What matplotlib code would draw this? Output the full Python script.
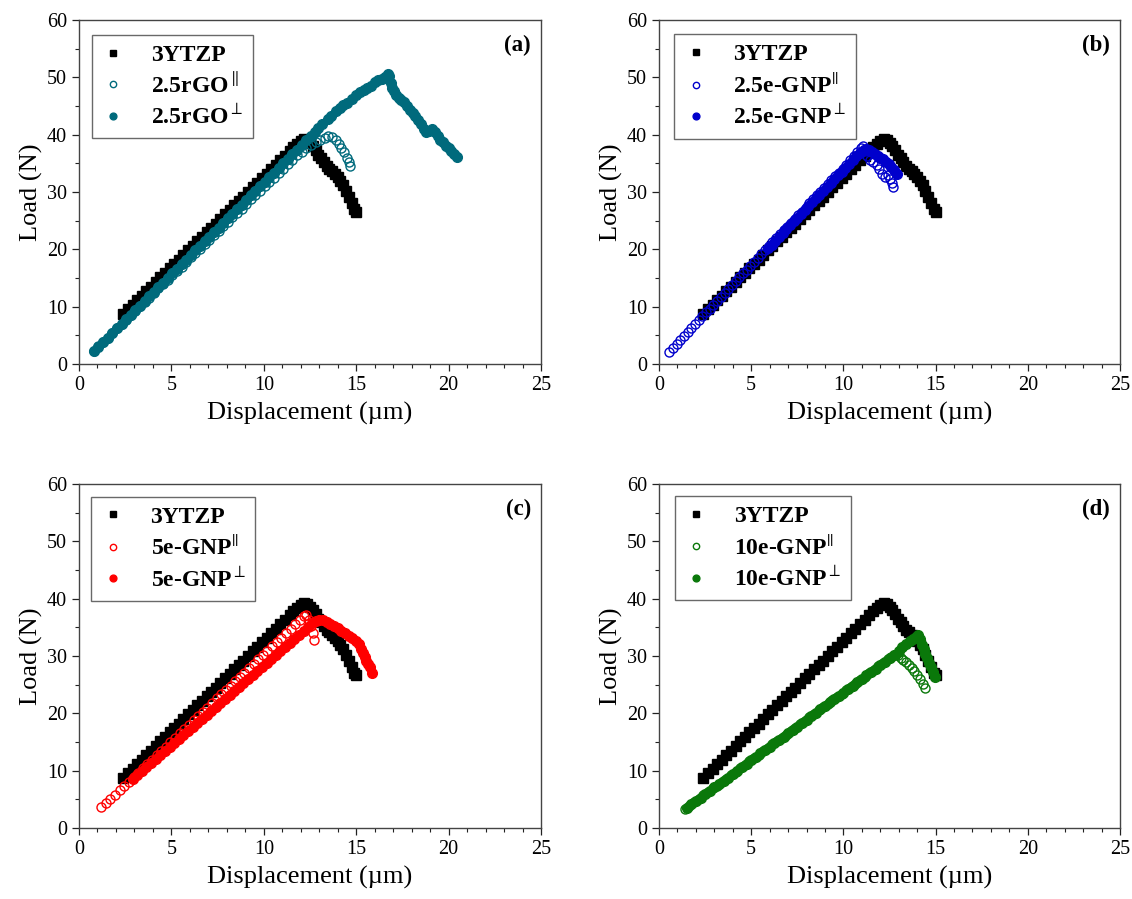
import matplotlib
matplotlib.use("Agg")
import matplotlib.pyplot as plt
from matplotlib.ticker import MultipleLocator

plt.rcParams['font.family'] = ['Liberation Serif', 'DejaVu Serif']
plt.rcParams['mathtext.fontset'] = 'stix'

# ---- datos ----
# 3YTZP (referencia, igual en los cuatro paneles)
x_ytzp = [2.40, 2.65, 2.90, 3.15, 3.40, 3.65, 3.90, 4.15, 4.40, 4.65, 4.90, 5.15, 5.40, 5.65, 5.90,
          6.15, 6.40, 6.65, 6.90, 7.15, 7.40, 7.65, 7.90, 8.15, 8.40, 8.65, 8.90, 9.15, 9.40, 9.65,
          9.90, 10.15, 10.40, 10.65, 10.90, 11.15, 11.40, 11.60, 11.80, 12.00, 12.20, 12.35, 12.50,
          12.65, 12.80, 12.95, 13.10, 13.25, 13.40, 13.55, 13.70, 13.85, 14.00, 14.15, 14.30, 14.45,
          14.60, 14.75, 14.90, 15.00]
y_ytzp = [8.8, 9.6, 10.3, 11.1, 11.9, 12.7, 13.5, 14.3, 15.1, 15.9, 16.7, 17.4, 18.2, 19.0, 19.8,
          20.6, 21.4, 22.2, 23.0, 23.8, 24.5, 25.3, 26.1, 26.9, 27.7, 28.4, 29.2, 30.0, 30.8, 31.6,
          32.4, 33.2, 34.0, 34.7, 35.5, 36.3, 37.1, 37.8, 38.4, 38.9, 39.2, 39.1, 38.6,
          38.1, 37.3, 36.5, 35.9, 35.3, 34.6, 34.1, 33.6, 33.2, 32.7, 32.0, 31.2, 30.2,
          29.2, 28.1, 27.1, 26.6]

# (a) 2.5rGO
x_rgo_par = [0.80, 1.05, 1.30, 1.55, 1.80, 2.05, 2.30, 2.55, 2.80, 3.05, 3.30, 3.55, 3.80, 4.05, 4.30,
             4.55, 4.80, 5.05, 5.30, 5.55, 5.80, 6.05, 6.30, 6.55, 6.80, 7.05, 7.30, 7.55, 7.80, 8.05,
             8.30, 8.55, 8.80, 9.05, 9.30, 9.55, 9.80, 10.05, 10.30, 10.55, 10.80, 11.05, 11.30, 11.55,
             11.80, 12.05, 12.30, 12.55, 12.80, 13.05, 13.30, 13.50, 13.70, 13.90, 14.05, 14.20, 14.35,
             14.50, 14.60, 14.66]
y_rgo_par = [2.3, 3.1, 3.9, 4.6, 5.4, 6.2, 7.0, 7.7, 8.5, 9.3, 10.1, 10.8, 11.6, 12.4, 13.2,
             13.9, 14.7, 15.5, 16.3, 17.0, 17.8, 18.6, 19.4, 20.1, 20.9, 21.7, 22.5, 23.2, 24.0, 24.8,
             25.6, 26.3, 27.1, 27.9, 28.7, 29.4, 30.2, 31.0, 31.8, 32.5, 33.3, 34.1, 34.9, 35.6,
             36.4, 37.0, 37.6, 38.2, 38.7, 39.1, 39.5, 39.7, 39.6, 39.0, 38.3, 37.6, 36.9,
             36.0, 35.2, 34.6]
x_rgo_perp = [0.80, 1.05, 1.30, 1.55, 1.80, 2.05, 2.30, 2.55, 2.80, 3.05, 3.30, 3.55, 3.80, 4.05, 4.30,
              4.55, 4.80, 5.05, 5.30, 5.55, 5.80, 6.05, 6.30, 6.55, 6.80, 7.05, 7.30, 7.55, 7.80, 8.05,
              8.30, 8.55, 8.80, 9.05, 9.30, 9.55, 9.80, 10.05, 10.30, 10.55, 10.80, 11.05, 11.30, 11.55,
              11.80, 12.05, 12.30, 12.55, 12.75, 12.95, 13.15, 13.45, 13.65, 13.90, 14.10, 14.30, 14.50,
              14.75, 15.00, 15.20, 15.40, 15.60, 15.80, 16.00, 16.20, 16.40, 16.55, 16.70, 16.80, 16.88,
              16.95, 17.05, 17.15, 17.30, 17.45, 17.60, 17.75, 17.90, 18.05, 18.20, 18.35, 18.50, 18.65,
              18.80, 18.95, 19.10, 19.25, 19.40, 19.55, 19.70, 19.85, 20.00, 20.15, 20.30, 20.44]
y_rgo_perp = [2.2, 3.0, 3.8, 4.6, 5.4, 6.2, 7.0, 7.8, 8.6, 9.4, 10.2, 11.0, 11.8, 12.6, 13.4,
              14.2, 15.0, 15.8, 16.6, 17.4, 18.2, 19.0, 19.8, 20.6, 21.4, 22.2, 23.0, 23.8, 24.6, 25.4,
              26.2, 27.0, 27.8, 28.6, 29.4, 30.2, 31.0, 31.8, 32.6, 33.4, 34.2, 35.0, 35.8, 36.6,
              37.4, 38.2, 39.0, 39.8, 40.5, 41.2, 41.9, 42.7, 43.3, 44.1, 44.6, 45.1, 45.6,
              46.3, 46.9, 47.4, 47.8, 48.2, 48.5, 49.2, 49.5, 49.8, 50.0, 50.6, 50.2, 49.0,
              48.2, 47.6, 46.9, 46.4, 46.0, 45.7, 45.0, 44.3, 43.7, 43.2, 42.6, 41.8, 41.0,
              40.4, 40.6, 41.0, 40.5, 39.8, 39.1, 38.7, 38.1, 37.6, 37.1, 36.6, 36.1]

# (b) 2.5e-GNP
x_g25_par = [0.53, 0.75, 0.95, 1.15, 1.35, 1.55, 1.75, 1.95, 2.15, 2.35, 2.55, 2.75, 2.95, 3.15, 3.35,
             3.55, 3.75, 3.95, 4.15, 4.35, 4.55, 4.75, 4.95, 5.15, 5.35, 5.55, 5.75, 5.95, 6.15, 6.35,
             6.55, 6.75, 6.95, 7.15, 7.35, 7.55, 7.75, 7.95, 8.15, 8.35, 8.55, 8.75, 8.95, 9.15, 9.35,
             9.55, 9.75, 9.95, 10.15, 10.35, 10.55, 10.75, 10.95, 11.05, 11.15, 11.30, 11.45, 11.60,
             11.80, 11.95, 12.10, 12.25, 12.40, 12.55, 12.65, 12.70]
y_g25_par = [2.1, 2.8, 3.5, 4.2, 4.9, 5.6, 6.3, 6.9, 7.6, 8.3, 9.0, 9.6, 10.3, 11.0, 11.7,
             12.4, 13.0, 13.7, 14.4, 15.1, 15.8, 16.4, 17.1, 17.8, 18.5, 19.2, 19.9, 20.5, 21.2, 21.9,
             22.6, 23.3, 23.9, 24.6, 25.3, 26.0, 26.6, 27.3, 28.0, 28.7, 29.4, 30.0, 30.7, 31.4, 32.1,
             32.8, 33.4, 34.1, 34.8, 35.5, 36.2, 36.9, 37.6, 38.0, 37.2, 36.2, 35.6, 35.3,
             34.8, 34.0, 33.2, 32.6, 33.0, 32.3, 31.5, 30.8]
x_g25_perp = [5.90, 6.10, 6.30, 6.50, 6.70, 6.90, 7.10, 7.30, 7.50, 7.70, 7.90, 8.10, 8.30, 8.50, 8.70,
              8.90, 9.10, 9.30, 9.50, 9.70, 9.90, 10.10, 10.30, 10.50, 10.70, 10.90, 11.10, 11.25, 11.40,
              11.55, 11.70, 11.85, 12.00, 12.15, 12.30, 12.45, 12.60, 12.75, 12.90]
y_g25_perp = [20.2, 20.8, 21.5, 22.2, 22.8, 23.5, 24.2, 24.9, 25.5, 26.2, 26.9, 27.5, 28.2, 28.9, 29.5,
              30.2, 30.9, 31.5, 32.2, 32.9, 33.5, 34.2, 34.9, 35.5, 36.2, 36.8, 37.3, 37.5, 37.3,
              37.0, 36.7, 36.3, 36.0, 35.7, 35.3, 34.9, 34.4, 33.8, 33.2]

# (c) 5e-GNP
x_g5_par = [1.21, 1.45, 1.70, 1.95, 2.20, 2.45, 2.70, 2.95, 3.20, 3.45, 3.70, 3.95, 4.20, 4.45, 4.70,
            4.95, 5.20, 5.45, 5.70, 5.95, 6.20, 6.45, 6.70, 6.95, 7.20, 7.45, 7.70, 7.95, 8.20, 8.45,
            8.70, 8.95, 9.20, 9.45, 9.70, 9.95, 10.20, 10.45, 10.70, 10.95, 11.20, 11.45, 11.70, 11.95,
            12.15, 12.30, 12.45, 12.55, 12.65, 12.74]
y_g5_par = [3.6, 4.3, 5.1, 5.8, 6.6, 7.4, 8.1, 8.9, 9.6, 10.4, 11.2, 11.9, 12.7, 13.4, 14.2,
            15.0, 15.7, 16.5, 17.2, 18.0, 18.8, 19.5, 20.3, 21.0, 21.8, 22.6, 23.3, 24.1, 24.8, 25.6,
            26.4, 27.1, 27.9, 28.6, 29.4, 30.2, 30.9, 31.7, 32.4, 33.2, 34.0, 34.7, 35.5, 36.3,
            36.9, 37.1, 36.3, 35.2, 34.0, 32.8]
x_g5_perp = [2.90, 3.15, 3.40, 3.65, 3.90, 4.15, 4.40, 4.65, 4.90, 5.15, 5.40, 5.65, 5.90, 6.15, 6.40,
             6.65, 6.90, 7.15, 7.40, 7.65, 7.90, 8.15, 8.40, 8.65, 8.90, 9.15, 9.40, 9.65, 9.90, 10.15,
             10.40, 10.65, 10.90, 11.15, 11.40, 11.65, 11.90, 12.15, 12.40, 12.60, 12.80, 13.00, 13.20,
             13.40, 13.60, 13.80, 14.00, 14.20, 14.40, 14.60, 14.80, 15.00, 15.15, 15.25, 15.35, 15.45,
             15.55, 15.65, 15.75, 15.87]
y_g5_perp = [8.5, 9.2, 9.9, 10.6, 11.3, 12.0, 12.7, 13.4, 14.1, 14.8, 15.5, 16.2, 16.9, 17.6, 18.3,
             19.0, 19.7, 20.4, 21.1, 21.8, 22.5, 23.2, 23.9, 24.6, 25.3, 26.0, 26.7, 27.4, 28.1, 28.8,
             29.5, 30.2, 30.9, 31.6, 32.3, 33.0, 33.7, 34.4, 35.1, 35.7, 36.1, 36.3, 36.2,
             35.9, 35.6, 35.2, 34.8, 34.4, 34.0, 33.5, 33.1, 32.6, 32.1, 31.3, 30.6, 29.9,
             29.2, 28.6, 28.0, 27.0]

# (d) 10e-GNP
x_g10_par = [1.40, 1.65, 1.90, 2.15, 2.40, 2.65, 2.90, 3.15, 3.40, 3.65, 3.90, 4.15, 4.40, 4.65, 4.90,
             5.15, 5.40, 5.65, 5.90, 6.15, 6.40, 6.65, 6.90, 7.15, 7.40, 7.65, 7.90, 8.15, 8.40, 8.65,
             8.90, 9.15, 9.40, 9.65, 9.90, 10.15, 10.40, 10.65, 10.90, 11.15, 11.40, 11.65, 11.90, 12.15,
             12.40, 12.60, 12.80, 12.95, 13.10, 13.25, 13.40, 13.55, 13.70, 13.85, 14.00, 14.15, 14.30,
             14.45]
y_g10_par = [3.3, 3.9, 4.5, 5.1, 5.7, 6.3, 6.9, 7.4, 8.0, 8.6, 9.2, 9.8, 10.4, 11.0, 11.6,
             12.2, 12.8, 13.4, 14.0, 14.6, 15.2, 15.7, 16.3, 16.9, 17.5, 18.1, 18.7, 19.3, 19.9, 20.5,
             21.1, 21.7, 22.3, 22.9, 23.4, 24.0, 24.6, 25.2, 25.8, 26.4, 27.0, 27.6, 28.2, 28.8,
             29.4, 29.9, 30.2, 30.1, 29.7, 29.3, 28.9, 28.4, 27.9, 27.3, 26.7, 26.0, 25.2,
             24.5]
x_g10_perp = [1.50, 1.75, 2.00, 2.25, 2.50, 2.75, 3.00, 3.25, 3.50, 3.75, 4.00, 4.25, 4.50, 4.75, 5.00,
              5.25, 5.50, 5.75, 6.00, 6.25, 6.50, 6.75, 7.00, 7.25, 7.50, 7.75, 8.00, 8.25, 8.50, 8.75,
              9.00, 9.25, 9.50, 9.75, 10.00, 10.25, 10.50, 10.75, 11.00, 11.25, 11.50, 11.75, 12.00, 12.25,
              12.50, 12.75, 13.00, 13.20, 13.40, 13.60, 13.80, 13.95, 14.05, 14.15, 14.25, 14.35, 14.45,
              14.55, 14.65, 14.75, 14.85, 14.95]
y_g10_perp = [3.5, 4.1, 4.7, 5.3, 5.9, 6.5, 7.1, 7.6, 8.2, 8.8, 9.4, 10.0, 10.6, 11.2, 11.8,
              12.4, 13.0, 13.6, 14.2, 14.8, 15.4, 15.9, 16.5, 17.1, 17.7, 18.3, 18.9, 19.5, 20.1, 20.7,
              21.3, 21.9, 22.5, 23.1, 23.6, 24.2, 24.8, 25.4, 26.0, 26.6, 27.2, 27.8, 28.4, 29.0,
              29.6, 30.2, 30.9, 31.5, 32.1, 32.6, 33.0, 33.4, 33.6, 33.0, 32.0, 31.2, 30.4,
              29.6, 28.8, 28.0, 27.2, 26.4]

paneles = ['(a)', '(b)', '(c)', '(d)']
nombres_par = ['2.5rGO$^{\\parallel}$', '2.5e-GNP$^{||}$', '5e-GNP$^{||}$', '10e-GNP$^{||}$']
nombres_perp = ['2.5rGO$^{\\perp}$', '2.5e-GNP$^{\\perp}$', '5e-GNP$^{\\perp}$', '10e-GNP$^{\\perp}$']
colores = ['#006a7c', '#0000cc', '#ff0000', '#0a780a']
datos_par = [(x_rgo_par, y_rgo_par), (x_g25_par, y_g25_par), (x_g5_par, y_g5_par), (x_g10_par, y_g10_par)]
datos_perp = [(x_rgo_perp, y_rgo_perp), (x_g25_perp, y_g25_perp), (x_g5_perp, y_g5_perp), (x_g10_perp, y_g10_perp)]

# posiciones de los ejes (fraccion de figura)
pos = [[0.0698, 0.5951, 0.4081, 0.3826],
       [0.5822, 0.5951, 0.4072, 0.3826],
       [0.0698, 0.0790, 0.4081, 0.3826],
       [0.5822, 0.0790, 0.4072, 0.3826]]
pos_leyenda = [(0.028, 0.957), (0.033, 0.958), (0.027, 0.963), (0.035, 0.965)]

fig = plt.figure(figsize=(11.32, 8.99), dpi=100)

for i in range(4):
    ax = fig.add_axes(pos[i])
    c = colores[i]
    ax.plot(x_ytzp, y_ytzp, 's', color='black', markersize=7, label='3YTZP')
    ax.plot(*datos_par[i], 'o', markerfacecolor='none', markeredgecolor=c, markeredgewidth=1.0,
            markersize=6.5, label=nombres_par[i])
    ax.plot(*datos_perp[i], 'o', color=c, markersize=7, label=nombres_perp[i])

    ax.set_xlim(0, 25)
    ax.set_ylim(0, 60)
    ax.xaxis.set_major_locator(MultipleLocator(5))
    ax.xaxis.set_minor_locator(MultipleLocator(1))
    ax.yaxis.set_major_locator(MultipleLocator(10))
    ax.yaxis.set_minor_locator(MultipleLocator(5))
    ax.tick_params(which='both', direction='out', top=False, right=False, labelsize=14.5,
                   colors='#222222', labelcolor='black')
    ax.tick_params(which='major', length=5, width=0.9)
    ax.tick_params(which='minor', length=3, width=0.8)
    for s in ax.spines.values():
        s.set_color('#444444')
        s.set_linewidth(1.0)

    ax.set_xlabel('Displacement (µm)', fontsize=19, labelpad=5)
    ax.set_ylabel('Load (N)', fontsize=19, labelpad=3)

    ax.text(0.978, 0.925, paneles[i], transform=ax.transAxes, ha='right', va='center',
            fontsize=16.5, fontweight='bold')

    leg = ax.legend(loc='upper left', bbox_to_anchor=pos_leyenda[i], borderaxespad=0,
                    prop={'weight': 'bold', 'size': 17}, fancybox=False, frameon=True,
                    handlelength=1.0, handletextpad=1.1, labelspacing=0.3, borderpad=0.4,
                    markerscale=0.7)
    leg.get_frame().set_edgecolor('#444444')
    leg.get_frame().set_linewidth(1.0)

fig.savefig('out.png', dpi=100)
